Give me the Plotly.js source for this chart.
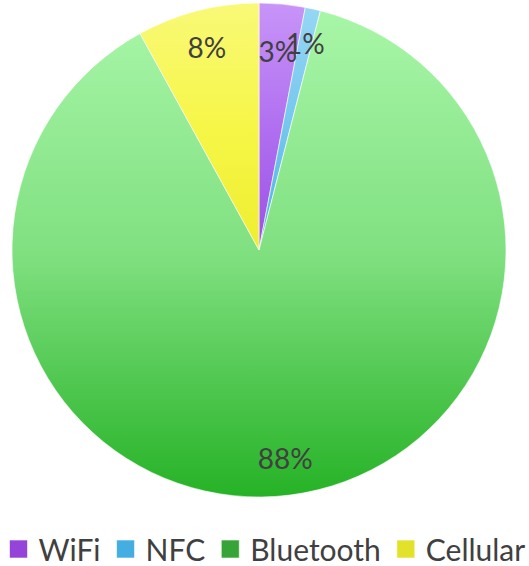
<!DOCTYPE html>
<html><head><meta charset="utf-8">
<script src="https://cdn.plot.ly/plotly-3.0.1.min.js"></script>
<style>html,body{margin:0;padding:0;background:#fff}</style>
</head><body>
<div id="chart" style="width:529px;height:566px"></div>
<script>
const categories = ["WiFi", "NFC", "Bluetooth", "Cellular"];
const values = [3, 1, 88, 8];
const colors = ["#b474f2", "#74c8ee", "#7ee27e", "#f6f650"];
const gradTop = ["#c894f8", "#96d6f4", "#a8f6a8", "#f9f978"];
const gradMid = ["#b070f0", "#74c6ee", "#80e080", "#f6f648"];
const gradBot = ["#9c50e6", "#4cb2e4", "#26b226", "#eeee30"];
const legendColors = ["#9444d8", "#44aee2", "#36a436", "#e2e22a"];

const FONT = "Lato, 'Open Sans', sans-serif";
const dom = {x: [12/529, 506/529], y: [1 - 498/566, 1 - 2/566]};
const domSmall = {x: [40/529, 478/529], y: [1 - 470/566, 1 - 30/566]};
const pctBig = ["", "", "%{percent:.0%}", "%{percent:.0%}"];
const pctSmall = ["%{percent:.0%}", "%{percent:.0%}", "", ""];
const clear = ["rgba(0,0,0,0)","rgba(0,0,0,0)","rgba(0,0,0,0)","rgba(0,0,0,0)"];

function labelTrace(tpl, hole, d) {
  return {
    type: "pie", labels: categories, values: values, sort: false,
    direction: "clockwise", rotation: 0, hole: hole, showlegend: false,
    texttemplate: tpl, textposition: "inside", insidetextorientation: "horizontal",
    textfont: {family: FONT, size: 28, color: "#404040"},
    marker: {colors: clear, line: {width: 0}}, domain: d, hoverinfo: "none"
  };
}

const data = [{
  type: "pie",
  labels: categories,
  values: values,
  sort: false,
  direction: "clockwise",
  rotation: 0,
  textinfo: "none",
  marker: {colors: colors, line: {color: "rgba(255,255,255,0.6)", width: 1}},
  domain: dom,
  hoverinfo: "none"
}, labelTrace(pctBig, 0.7, dom), labelTrace(pctSmall, 0.6, domSmall)];
const layout = {
  width: 529, height: 566,
  margin: {l: 0, r: 0, t: 0, b: 0},
  paper_bgcolor: "#ffffff",
  showlegend: true,
  uniformtext: {mode: "show", minsize: 28},
  legend: {orientation: "h", x: 0.5, xanchor: "center", y: 0, yanchor: "bottom",
    font: {family: FONT, size: 30, color: "#404040"},
    itemwidth: 30, tracegroupgap: 0}
};
Plotly.newPlot("chart", data, layout, {displayModeBar: false, staticPlot: true}).then(function(gd){
  const svg = gd.querySelector("svg.main-svg");
  const ns = "http://www.w3.org/2000/svg";
  let defs = svg.querySelector("defs");
  categories.forEach(function(c, i){
    const lg = document.createElementNS(ns, "linearGradient");
    lg.setAttribute("id", "pg" + i);
    lg.setAttribute("x1", "0"); lg.setAttribute("y1", "0");
    lg.setAttribute("x2", "0"); lg.setAttribute("y2", "1");
    [[0, gradTop[i]], [0.5, gradMid[i]], [1, gradBot[i]]].forEach(function(s){
      const st = document.createElementNS(ns, "stop");
      st.setAttribute("offset", String(s[0])); st.setAttribute("stop-color", s[1]);
      lg.appendChild(st);
    });
    defs.appendChild(lg);
  });
  const traces = gd.querySelectorAll("g.pielayer g.trace");
  traces[0].querySelectorAll("g.slice path.surface").forEach(function(p, i){
    p.style.fill = "url(#pg" + i + ")";
  });
  gd.querySelectorAll("g.legend g.traces").forEach(function(t, i){
    const p = t.querySelector("path.legendpie");
    if (p) {
      p.setAttribute("d", "M-9,-9H9V9H-9Z");
      p.style.fill = legendColors[i];
      p.style.stroke = "#ffffff";
      p.style.strokeWidth = "1px";
    }
  });
  const leg = gd.querySelector("g.legend");
  if (leg) {
    const tr = leg.getAttribute("transform") || "";
    leg.setAttribute("transform", tr + " translate(0,9)");
  }
});
</script>
</body></html>
